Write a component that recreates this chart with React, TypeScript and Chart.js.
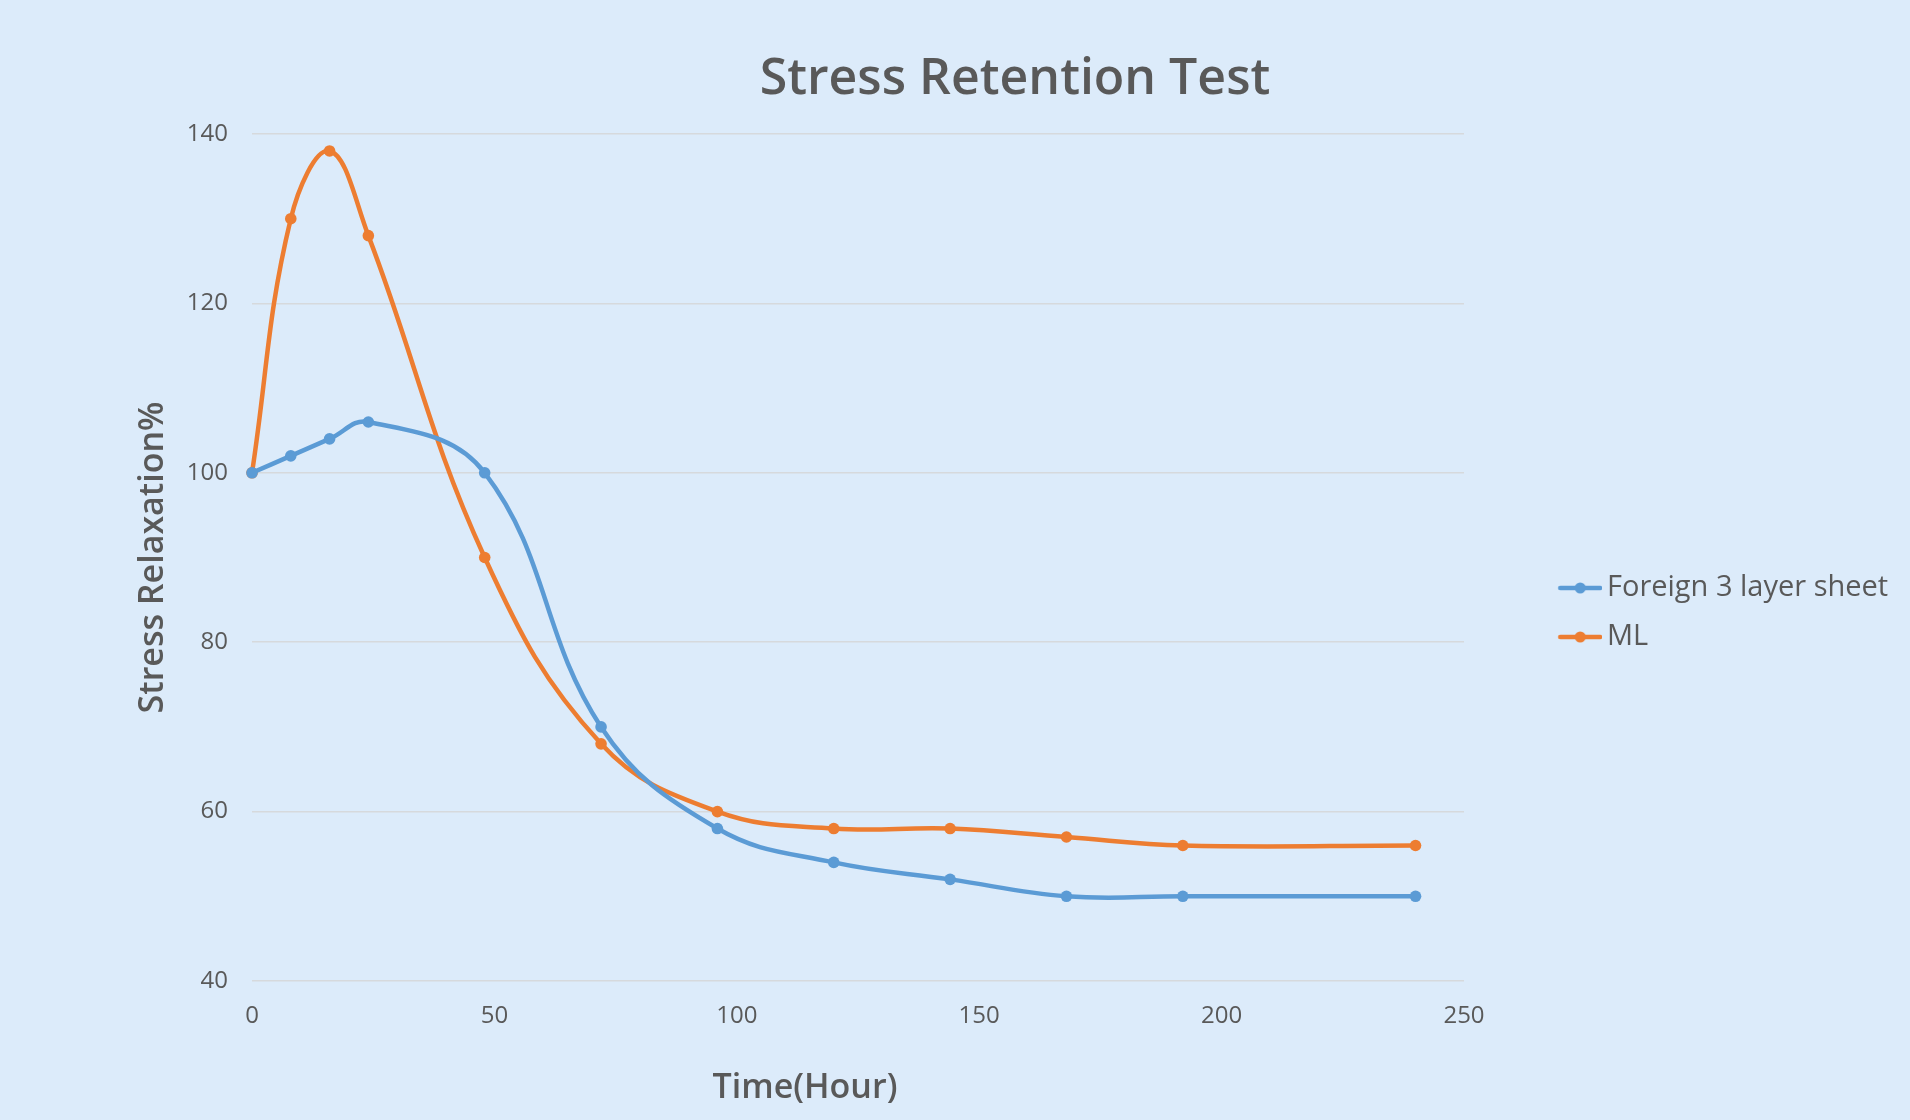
import React, { useEffect, useRef } from "react";
import { Chart, registerables } from "chart.js";
Chart.register(...registerables);

const hours = [0, 8, 16, 24, 48, 72, 96, 120, 144, 168, 192, 240];
const foreignValues = [100, 102, 104, 106, 100, 70, 58, 54, 52, 50, 50, 50];
const mlValues = [100, 130, 138, 128, 90, 68, 60, 58, 58, 57, 56, 56];
const seriesNames = ["Foreign 3 layer sheet", "ML"];
const chartTitle = "Stress Retention Test";
const xTitle = "Time(Hour)";
const yTitle = "Stress Relaxation%";
const xTicks = [0, 50, 100, 150, 200, 250];
const yTicks = [40, 60, 80, 100, 120, 140];

const BG = "#DCEBFA";
const TEXT = "#595959";
const GRID = "#D6D9DC";
const BLUE = "#5B9BD5";
const ORANGE = "#ED7D31";
const FONT = "'Open Sans', 'Noto Sans', sans-serif";

function legendMarker(color: string) {
  const c = document.createElement("canvas");
  c.width = 128;
  c.height = 14;
  const g = c.getContext("2d")!;
  g.strokeStyle = color;
  g.lineWidth = 4.5;
  g.lineCap = "round";
  g.beginPath();
  g.moveTo(86, 7);
  g.lineTo(126, 7);
  g.stroke();
  g.fillStyle = color;
  g.beginPath();
  g.arc(106, 7, 5.5, 0, Math.PI * 2);
  g.fill();
  return c;
}

export default function App() {
  const ref = useRef<HTMLCanvasElement>(null);
  useEffect(() => {
    document.body.style.margin = "0";
    document.body.style.background = BG;
    const canvas = ref.current!;
    const W = 1910;
    const legendFontSize = 29;
    const legendPadding = 20;
    const boxW = 108.5;
    const mctx = document.createElement("canvas").getContext("2d")!;
    mctx.font = `${legendFontSize}px ${FONT}`;
    const maxText = Math.max(...seriesNames.map((n) => mctx.measureText(n).width));
    const legendWidth = legendPadding + boxW + legendFontSize / 2 + maxText + 10;
    const plotRight = 1464;
    const padRight = W - plotRight - legendWidth;
    const markers = [legendMarker(BLUE), legendMarker(ORANGE)];

    const textPlugin = {
      id: "extraTitles",
      afterDraw(chart: any) {
        const ctx = chart.ctx;
        ctx.save();
        ctx.fillStyle = TEXT;
        ctx.textAlign = "center";
        ctx.textBaseline = "alphabetic";
        ctx.font = `600 50px ${FONT}`;
        ctx.fillText(chartTitle, 1015, 94);
        ctx.font = `600 34px ${FONT}`;
        ctx.fillText(xTitle, 805, 1098);
        ctx.restore();
      },
    };

    const mk = (vals: number[]) => hours.map((h, i) => ({ x: h, y: vals[i] }));
    const ds = (label: string, vals: number[], color: string) => ({
      label,
      data: mk(vals),
      borderColor: color,
      backgroundColor: color,
      pointBackgroundColor: color,
      pointBorderWidth: 0,
      pointRadius: 5.8,
      borderWidth: 4.5,
      tension: 0.4,
      fill: false,
      clip: false,
    });

    const chart = new Chart(canvas, {
      type: "line",
      data: {
        datasets: [ds(seriesNames[0], foreignValues, BLUE), ds(seriesNames[1], mlValues, ORANGE)],
      },
      options: {
        responsive: false,
        animation: false,
        devicePixelRatio: 1,
        layout: { padding: { top: 134, bottom: 79, left: 0, right: padRight } },
        scales: {
          x: {
            type: "linear",
            min: 0,
            max: 250,
            afterBuildTicks: (s: any) => {
              s.ticks = xTicks.map((v) => ({ value: v }));
            },
            grid: { display: false },
            border: { display: false },
            ticks: { color: TEXT, font: { family: FONT, size: 24 }, padding: 13, maxRotation: 0 },
            afterFit: (s: any) => {
              s.height = 60;
            },
          },
          y: {
            type: "linear",
            min: 40,
            max: 140,
            afterBuildTicks: (s: any) => {
              s.ticks = yTicks.map((v) => ({ value: v }));
            },
            grid: { color: GRID, lineWidth: 1.5, drawTicks: false },
            border: { display: false },
            ticks: { color: TEXT, font: { family: FONT, size: 24 }, padding: 24 },
            title: {
              display: true,
              text: yTitle,
              color: TEXT,
              font: { family: FONT, size: 34, weight: "600" },
              padding: { top: 132.6, bottom: 0 },
            },
            afterFit: (s: any) => {
              s.width = 252;
            },
          },
        },
        plugins: {
          title: { display: false },
          tooltip: { enabled: false },
          legend: {
            position: "right",
            align: "center",
            title: { display: true, text: " ", font: { size: 1, lineHeight: 1 }, padding: { top: 49, bottom: 0 } },
            labels: {
              usePointStyle: true,
              pointStyleWidth: boxW,
              padding: legendPadding,
              color: TEXT,
              font: { family: FONT, size: legendFontSize },
              generateLabels: (c: any) => {
                const items = Chart.defaults.plugins.legend.labels.generateLabels(c);
                return items.map((it: any, i: number) => ({ ...it, pointStyle: markers[i] }));
              },
            },
          },
        },
      },
      plugins: [textPlugin],
    } as any);
    return () => chart.destroy();
  }, []);
  return (
    <div style={{ width: 1910, height: 1120, background: BG }}>
      <canvas ref={ref} width={1910} height={1120} style={{ display: "block", width: 1910, height: 1120 }} />
    </div>
  );
}
